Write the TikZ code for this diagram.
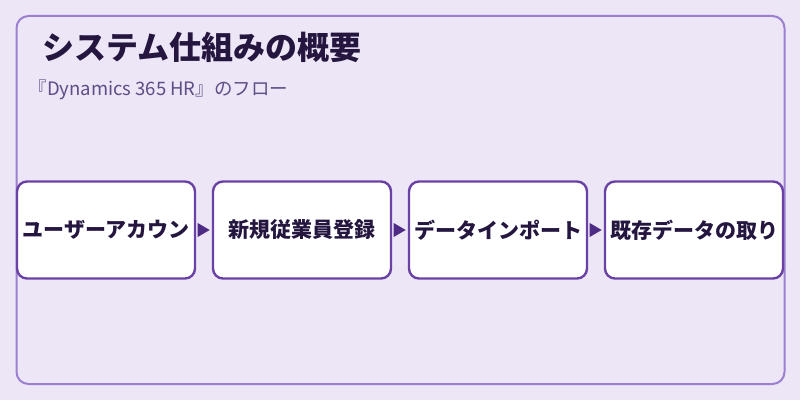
\documentclass[tikz,border=0pt]{standalone}
\usepackage{fontspec}
\setmainfont{Noto Sans CJK JP}
\usetikzlibrary{arrows.meta}
\definecolor{bgc}{HTML}{EDE6F6}
\definecolor{outerc}{HTML}{9C80CF}
\definecolor{boxc}{HTML}{6A42A6}
\definecolor{arrc}{HTML}{4E2C86}
\definecolor{titlec}{HTML}{24163F}
\definecolor{subc}{HTML}{5E4D86}
\tikzset{
  stepbox/.style={draw=boxc, line width=2.4pt, fill=white, rounded corners=10pt,
    minimum width=178pt, minimum height=97pt, inner sep=0pt,
    font=\fontsize{21pt}{24pt}\selectfont\bfseries, text=titlec},
}
\begin{document}
\begin{tikzpicture}[x=1pt,y=1pt]
\fill[bgc] (0,0) rectangle (800,400);
\useasboundingbox (0,0) rectangle (800,400);
\draw[outerc, line width=2pt, rounded corners=12pt] (16.5,16) rectangle (784.5,384);
\node[anchor=west, text=titlec, font=\fontsize{32pt}{36pt}\selectfont\bfseries] (title) at (39,353) {システム仕組みの概要};
\node[anchor=west, text=subc, font=\fontsize{18.5pt}{22pt}\selectfont] (sub) at (25,310) {『Dynamics 365 HR』のフロー};
\node[stepbox] (b1) at (106,170) {ユーザーアカウン};
\node[stepbox] (b2) at (302,170) {新規従業員登録};
\node[stepbox] (b3) at (498,170) {データインポート};
\node[stepbox] (b4) at (694,170) {既存データの取り};
\foreach \a/\b in {b1/b2,b2/b3,b3/b4}{
  \fill[arrc] ([xshift=1.5pt]\a.east) ++(0,7) -- ++(12,-7) -- ++(-12,-7) -- cycle;
}
\end{tikzpicture}
\end{document}
